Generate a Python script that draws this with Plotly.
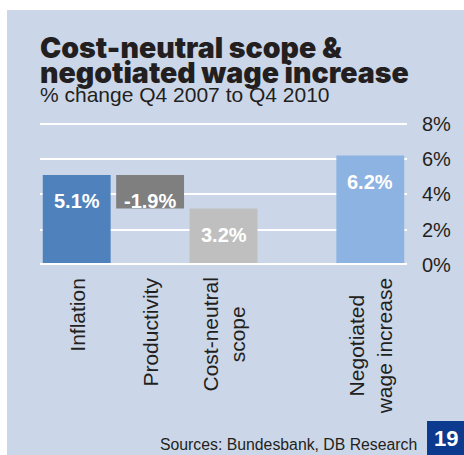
import plotly.graph_objects as go

# Waterfall-style decomposition, % change Q4 2007 to Q4 2010
categories = ["Inflation", "Productivity", "Cost-neutral<br>scope", " ", "Negotiated<br>wage increase"]
bar_categories = ["Inflation", "Productivity", "Cost-neutral<br>scope", "Negotiated<br>wage increase"]
bar_values = [5.1, -1.9, 3.2, 6.2]
bar_is_step = [False, True, False, False]   # productivity is a step down from inflation
bar_colors = ["#4f81bd", "#7f7f7f", "#bfbfbf", "#8db3e2"]
y_ticks = [0, 2, 4, 6, 8]
y_tick_labels = ["0%", "2%", "4%", "6%", "8%"]
title_lines = ["Cost-neutral scope &", "negotiated wage increase"]
subtitle = "% change Q4 2007 to Q4 2010"
source = "Sources: Bundesbank, DB Research"
page_no = "19"

# stacking bases: a step bar starts where the previous bar ends
bases = []
running = 0.0
for v, step in zip(bar_values, bar_is_step):
    b = running if step else 0.0
    bases.append(b)
    running = b + v

W, H = 464, 455
L, R, T, B = 40, 57, 122, 190
PW, PH = W - L - R, H - T - B
PANEL = "#cbd7e9"
TXT = "#231f20"
FONT = "Liberation Sans, Arial, sans-serif"
TITLE_FONT = "Inter, sans-serif"


def px_x(p):
    return (p - L) / PW


def px_y(p):
    return (H - B - p) / PH


fig = go.Figure()
fig.add_trace(go.Bar(
    x=bar_categories, y=bar_values, base=bases,
    marker=dict(color=bar_colors, line=dict(width=0)),
    hoverinfo="skip", showlegend=False,
))

annotations = []
# value labels, placed just below each bar's top edge
for c, v, b in zip(bar_categories, bar_values, bases):
    top = max(b, b + v)
    annotations.append(dict(
        x=c, y=top, xref="x", yref="y", text=f"{v:.1f}%", showarrow=False,
        yanchor="middle", yshift=-26,
        font=dict(family=FONT, size=20, color="white", weight="bold"),
    ))
# category labels, rotated, centred under each bar
for c in bar_categories:
    annotations.append(dict(
        x=c, y=0, xref="x", yref="paper", text=c, showarrow=False,
        textangle=-90, xanchor="center", yanchor="top", yshift=-11, align="center",
        font=dict(family=FONT, size=21, color=TXT),
    ))

# two-line heavy title: small base size keeps the line pitch tight,
# the spans carry the large display size
title_html = "<br>".join(f"<span style='font-size:28.5px'>{t}</span>" for t in title_lines)
annotations += [
    dict(x=-0.005, y=px_y(59.5), xref="paper", yref="paper", xanchor="left", yanchor="middle",
         text=title_html, showarrow=False, align="left",
         font=dict(family=TITLE_FONT, size=19.3, color=TXT, weight=900)),
    dict(x=-0.005, y=px_y(94), xref="paper", yref="paper", xanchor="left", yanchor="middle",
         text=subtitle, showarrow=False,
         font=dict(family=FONT, size=21, color=TXT)),
    dict(x=px_x(419), y=px_y(444), xref="paper", yref="paper", xanchor="right", yanchor="middle",
         text=source, showarrow=False,
         font=dict(family=FONT, size=15.8, color=TXT)),
    dict(x=px_x(445.5), y=px_y(438), xref="paper", yref="paper", xanchor="center", yanchor="middle",
         text=page_no, showarrow=False,
         font=dict(family=FONT, size=22, color="white", weight="bold")),
]

shapes = [
    # panel background
    dict(type="rect", xref="paper", yref="paper", x0=px_x(7), x1=px_x(W + 2), y0=px_y(H + 2), y1=px_y(10),
         fillcolor=PANEL, line=dict(width=0), layer="below"),
    # page-number box
    dict(type="rect", xref="paper", yref="paper", x0=px_x(427), x1=px_x(W + 2), y0=px_y(H + 2), y1=px_y(421),
         fillcolor="#0b3a8e", line=dict(width=0), layer="above"),
    # baseline
    dict(type="line", xref="paper", yref="y", x0=0, x1=1, y0=0, y1=0,
         line=dict(color="white", width=4), layer="above"),
]

fig.update_layout(
    width=W, height=H,
    margin=dict(l=L, r=R, t=T, b=B, pad=0),
    paper_bgcolor="white", plot_bgcolor=PANEL,
    bargap=0.075,
    annotations=annotations, shapes=shapes,
    xaxis=dict(categoryorder="array", categoryarray=categories, type="category",
               showticklabels=False, showgrid=False, zeroline=False, showline=False, fixedrange=True),
    yaxis=dict(side="right", range=[0, 8.1], tickvals=y_ticks, ticktext=y_tick_labels,
               showgrid=True, gridcolor="white", gridwidth=2, zeroline=False, showline=False,
               ticks="", ticklabelstandoff=14,
               tickfont=dict(family=FONT, size=20, color=TXT), fixedrange=True),
)

fig.write_html("out.html")
